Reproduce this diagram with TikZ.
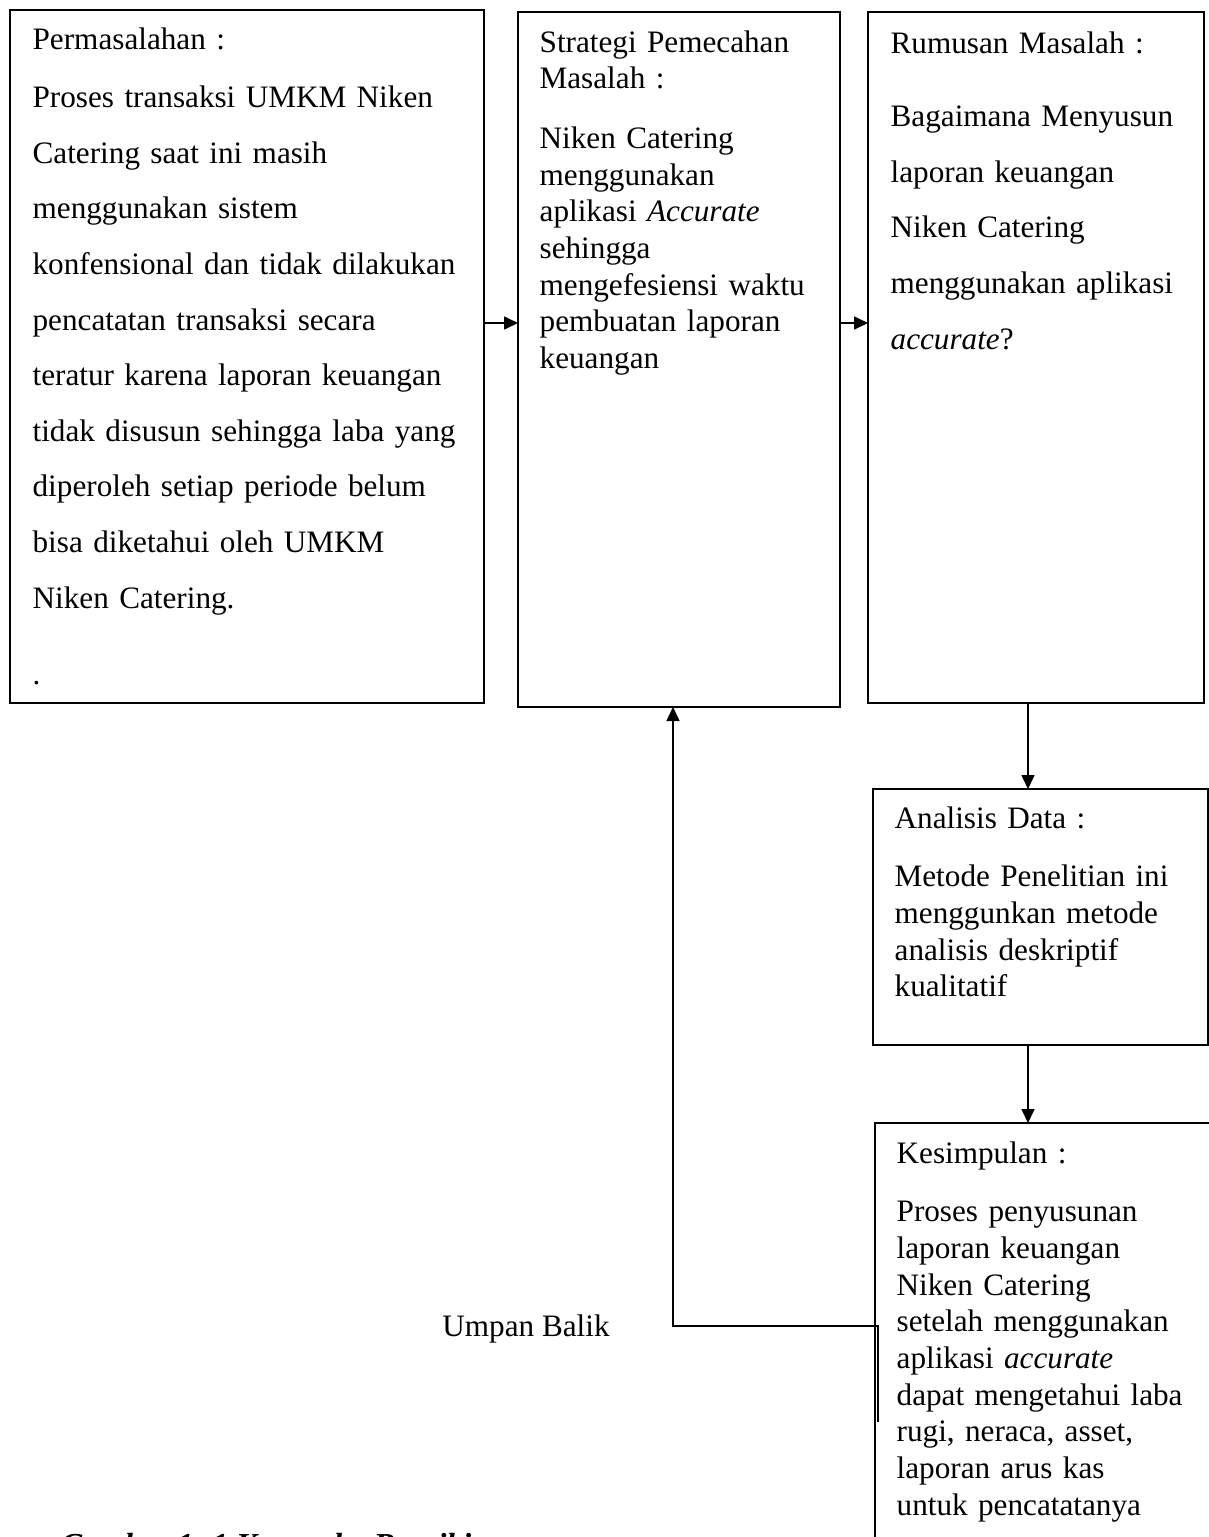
\documentclass[tikz,border=0pt]{standalone}
\usepackage{fontspec}
\setmainfont{Liberation Serif}
\usetikzlibrary{arrows.meta, positioning, calc}

\begin{document}
\begin{tikzpicture}[
      x=1pt, y=-1pt,
      line width=1.3pt,
      arr/.style = {
        line width=1.6pt,
        -{Triangle[length=14pt,width=13pt]}
      },
      frame/.style = {
        draw,
        anchor=north west,
        inner sep=0pt,
        outer sep=0pt
      },
      single/.style = {
        anchor=base west,
        inner sep=0pt,
        align=left,
        font=\fontsize{31.2}{36.7}\selectfont
      },
      onehalf/.style = {
        single,
        font=\fontsize{31.2}{55.6}\selectfont
      }
    ]

    \useasboundingbox (0,0) rectangle (1209,1537);
    \clip (0,0) rectangle (1209,1537);

    % boxes
    \node[frame, minimum width=474pt, minimum height=693pt] (masalah)   at (10,10)    {};
    \node[frame, minimum width=322pt, minimum height=695pt] (strategi)  at (518,12)   {};
    \node[frame, minimum width=336pt, minimum height=691pt] (rumusan)   at (868,12)   {};
    \node[frame, minimum width=335pt, minimum height=256pt] (analisis)  at (873,789)  {};
    \node[frame, minimum width=360pt, minimum height=500pt] (simpulan)  at (875,1123) {};

    % texts
    \node[onehalf, text width=450pt] (masalahtxt) at ([xshift=22pt,yshift=-39pt]masalah.north west)
      {Permasalahan :\\[3pt]
       Proses transaksi UMKM Niken\\
       Catering saat ini masih\\
       menggunakan sistem\\
       konfensional dan tidak dilakukan\\
       pencatatan transaksi secara\\
       teratur karena laporan keuangan\\
       tidak disusun sehingga laba yang\\
       diperoleh setiap periode belum\\
       bisa diketahui oleh UMKM\\
       Niken Catering.\\[21pt]
       .};
    \node[single, text width=300pt] (strategitxt) at ([xshift=21pt,yshift=-40pt]strategi.north west)
      {Strategi Pemecahan\\
       Masalah :\\[23pt]
       Niken Catering\\
       menggunakan\\
       aplikasi \textit{Accurate}\\
       sehingga\\
       mengefesiensi waktu\\
       pembuatan laporan\\
       keuangan};
    \node[onehalf, text width=310pt] (rumusantxt) at ([xshift=22pt,yshift=-41pt]rumusan.north west)
      {Rumusan Masalah :\\[18pt]
       Bagaimana Menyusun\\
       laporan keuangan\\
       Niken Catering\\
       menggunakan aplikasi\\
       \textit{accurate}?};
    \node[single, text width=310pt] (analisistxt) at ([xshift=21pt,yshift=-39pt]analisis.north west)
      {Analisis Data :\\[22pt]
       Metode Penelitian ini\\
       menggunkan metode\\
       analisis deskriptif\\
       kualitatif};
    \node[single, text width=310pt] (simpulantxt) at ([xshift=21pt,yshift=-40pt]simpulan.north west)
      {Kesimpulan :\\[22pt]
       Proses penyusunan\\
       laporan keuangan\\
       Niken Catering\\
       setelah menggunakan\\
       aplikasi \textit{accurate}\\
       dapat mengetahui laba\\
       rugi, neraca, asset,\\
       laporan arus kas\\
       untuk pencatatanya};

    \node[single, anchor=base] (umpan) at (526,1336) {Umpan Balik};
    \node[single, font=\fontsize{32}{36.7}\selectfont\bfseries\itshape] (caption) at (60,1555)
      {Gambar 1. 1 Kerangka Berpikir};

    % arrows
    \coordinate (midrow)  at (0,323);
    \coordinate (downcol) at (1028,0);
    \coordinate (backcol) at (673,0);
    \coordinate (fbstart) at (878,1422);

    \draw[arr] (masalah.east |- midrow)  -- (strategi.west |- midrow);
    \draw[arr] (strategi.east |- midrow) -- (rumusan.west |- midrow);
    \draw[arr] (rumusan.south -| downcol)  -- (analisis.north -| downcol);
    \draw[arr] (analisis.south -| downcol) -- (simpulan.north -| downcol);
    \draw[arr] (fbstart) -- ++(0,-96) -| (strategi.south -| backcol);

  \end{tikzpicture}
\end{document}
